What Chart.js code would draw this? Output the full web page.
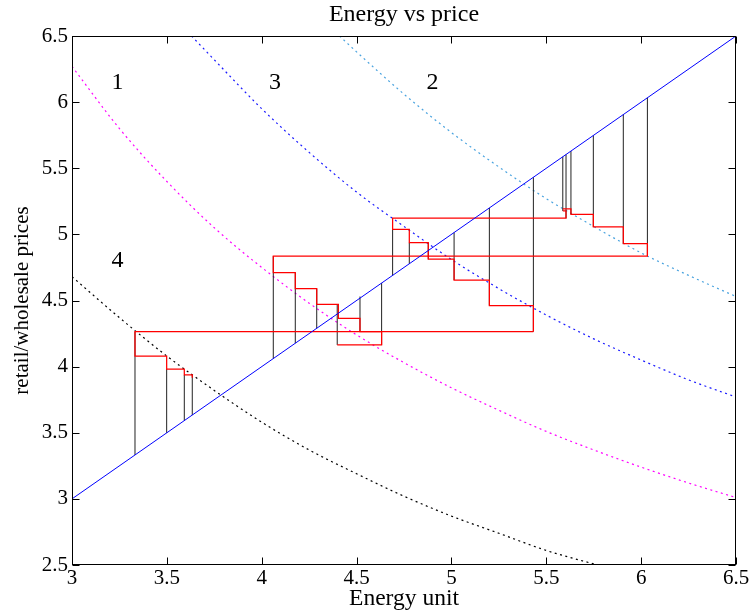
<!DOCTYPE html>
<html>
<head>
<meta charset="utf-8">
<script src="https://cdn.jsdelivr.net/npm/chart.js@4.4.1/dist/chart.umd.min.js"></script>
<style>
  html, body { margin: 0; padding: 0; background: #fff; }
  #wrap { width: 751px; height: 615px; }
</style>
</head>
<body>
<div id="wrap"><canvas id="c" width="751" height="615"></canvas></div>
<script>
// Axis ticks
const xTickVals = [3, 3.5, 4, 4.5, 5, 5.5, 6, 6.5];
const yTickVals = [2.5, 3, 3.5, 4, 4.5, 5, 5.5, 6, 6.5];

// 45-degree line (retail = wholesale)
const diagX = [3, 6.5];
const diagY = [3, 6.5];

// Dotted level curves 1..4
const curve1X = [3, 3.25, 3.5, 3.75, 4, 4.25, 4.5, 4.75, 5, 5.25, 5.5, 5.75, 6, 6.25, 6.5];
const curve1Y = [6.27, 5.80, 5.40, 5.05, 4.75, 4.48, 4.24, 4.03, 3.84, 3.67, 3.51, 3.37, 3.24, 3.12, 3.01];
const curve2X = [4.41, 4.5, 4.75, 5, 5.25, 5.5, 5.75, 6, 6.25, 6.5];
const curve2Y = [6.5, 6.38, 6.06, 5.77, 5.51, 5.27, 5.06, 4.86, 4.69, 4.53];
const curve3X = [3.63, 3.75, 4, 4.25, 4.5, 4.75, 5, 5.25, 5.5, 5.75, 6, 6.25, 6.5];
const curve3Y = [6.5, 6.32, 5.95, 5.62, 5.32, 5.06, 4.81, 4.59, 4.39, 4.21, 4.05, 3.90, 3.77];
const curve4X = [3, 3.25, 3.5, 3.75, 4, 4.25, 4.5, 4.75, 5, 5.25, 5.5, 5.77];
const curve4Y = [4.68, 4.37, 4.08, 3.82, 3.58, 3.37, 3.19, 3.02, 2.87, 2.74, 2.61, 2.50];

// Red price staircases
const stepsAX = [3.634, 3.634, 3.592, 3.592, 3.499, 3.499, 3.332, 3.332, 5.432];
const stepsAY = [3.915, 3.937, 3.937, 3.982, 3.982, 4.080, 4.080, 4.265, 4.265];
const stepsBX = [5.587, 5.630, 5.630, 5.748, 5.748, 5.906, 5.906, 6.033, 6.033, 4.061, 4.061, 4.177, 4.177, 4.290, 4.290, 4.404, 4.404, 4.518, 4.518, 4.632, 4.632, 4.398];
const stepsBY = [5.192, 5.192, 5.152, 5.152, 5.056, 5.056, 4.930, 4.930, 4.836, 4.836, 4.710, 4.710, 4.589, 4.589, 4.471, 4.471, 4.365, 4.365, 4.264, 4.264, 4.164, 4.164];
const stepsCX = [5.587, 5.604, 5.604, 4.690, 4.690, 4.778, 4.778, 4.878, 4.878, 5.014, 5.014, 5.200, 5.200, 5.432, 5.432];
const stepsCY = [5.177, 5.177, 5.122, 5.122, 5.038, 5.038, 4.937, 4.937, 4.812, 4.812, 4.655, 4.655, 4.461, 4.461, 4.265];

// Black vertical links (x, lower end, upper end)
const riseX    = [3.332, 3.499, 3.592, 3.634, 4.061, 4.177, 4.290, 4.398, 4.518, 4.632, 4.690, 4.778, 4.878, 5.014, 5.200, 5.432, 5.587, 5.604, 5.630, 5.748, 5.906, 6.033];
const riseLow  = [3.332, 3.499, 3.592, 3.634, 4.061, 4.177, 4.290, 4.164, 4.264, 4.164, 4.690, 4.778, 4.812, 4.655, 4.461, 4.265, 5.177, 5.122, 5.152, 5.056, 4.930, 4.836];
const riseHigh = [4.265, 3.982, 3.937, 3.937, 4.836, 4.710, 4.589, 4.471, 4.530, 4.632, 5.038, 4.937, 4.937, 5.014, 5.200, 5.432, 5.587, 5.604, 5.630, 5.748, 5.906, 6.033];

// Curve labels
const noteText = ['1', '3', '2', '4'];
const noteX = [3.24, 4.07, 4.90, 3.24];
const noteY = [6.15, 6.15, 6.15, 4.80];

const SERIF = "'Liberation Serif', 'Times New Roman', serif";

function pts(xs, ys) { return xs.map((v, i) => ({ x: v, y: ys[i] })); }

const riseData = [];
riseX.forEach((v, i) => {
  riseData.push({ x: v, y: riseLow[i] }, { x: v, y: riseHigh[i] }, { x: v, y: null });
});

const dotted = (data, color) => ({
  data, borderColor: color, borderWidth: 1.2, borderDash: [2, 3.5],
  showLine: true, pointRadius: 0, cubicInterpolationMode: 'monotone', order: 5
});
const solid = (data, color, order, width) => ({
  data, borderColor: color, borderWidth: width, showLine: true, pointRadius: 0,
  tension: 0, spanGaps: false, order
});

// Box with inward ticks on all four sides, plus curve labels
const framePlugin = {
  id: 'frame',
  afterDatasetsDraw(chart) {
    const { ctx, chartArea: a, scales: { x, y } } = chart;
    ctx.save();
    ctx.strokeStyle = '#000';
    ctx.lineWidth = 1;
    const L = Math.round(a.left) + 0.5, R = Math.round(a.right) - 0.5;
    const T = Math.round(a.top) + 0.5, B = Math.round(a.bottom) - 0.5;
    ctx.strokeRect(L, T, R - L, B - T);
    const tl = 7;
    ctx.beginPath();
    xTickVals.forEach(v => {
      const px = Math.round(x.getPixelForValue(v)) + 0.5;
      ctx.moveTo(px, B); ctx.lineTo(px, B - tl);
      ctx.moveTo(px, T); ctx.lineTo(px, T + tl);
    });
    yTickVals.forEach(v => {
      const py = Math.round(y.getPixelForValue(v)) + 0.5;
      ctx.moveTo(L, py); ctx.lineTo(L + tl, py);
      ctx.moveTo(R, py); ctx.lineTo(R - tl, py);
    });
    ctx.stroke();
    ctx.fillStyle = '#000';
    ctx.font = '24px ' + SERIF;
    ctx.textAlign = 'center';
    ctx.textBaseline = 'middle';
    noteText.forEach((t, i) => {
      ctx.fillText(t, x.getPixelForValue(noteX[i]), y.getPixelForValue(noteY[i]));
    });
    ctx.restore();
  }
};

new Chart(document.getElementById('c'), {
  type: 'scatter',
  data: {
    datasets: [
      dotted(pts(curve1X, curve1Y), '#ff00ff'),
      dotted(pts(curve2X, curve2Y), '#4aa3df'),
      dotted(pts(curve3X, curve3Y), '#1a1aff'),
      dotted(pts(curve4X, curve4Y), '#000000'),
      solid(riseData, '#222222', 3, 1),
      solid(pts(stepsAX, stepsAY), '#ff0000', 2, 1.25),
      solid(pts(stepsBX, stepsBY), '#ff0000', 2, 1.25),
      solid(pts(stepsCX, stepsCY), '#ff0000', 2, 1.25),
      solid(pts(diagX, diagY), '#0000ff', 1, 1)
    ]
  },
  options: {
    responsive: false,
    animation: false,
    devicePixelRatio: 1,
    layout: { padding: { top: 0, right: 15, bottom: 0, left: 0 } },
    plugins: {
      legend: { display: false },
      tooltip: { enabled: false },
      title: {
        display: true,
        text: 'Energy vs price',
        fullSize: false,
        color: '#000',
        font: { family: SERIF, size: 24, weight: 'normal' },
        padding: { top: 0, bottom: 7.2 }
      }
    },
    scales: {
      x: {
        type: 'linear', min: 3, max: 6.5,
        grid: { display: false, drawTicks: false },
        border: { display: false },
        afterBuildTicks: s => { s.ticks = xTickVals.map(v => ({ value: v })); },
        afterFit: s => { s.height = 50; },
        ticks: {
          autoSkip: false, maxRotation: 0, padding: 1, color: '#000',
          font: { family: SERIF, size: 21 },
          callback: v => String(v)
        },
        title: {
          display: true, text: 'Energy unit', color: '#000',
          font: { family: SERIF, size: 23.5 },
          padding: { top: 0, bottom: 2 }
        }
      },
      y: {
        type: 'linear', min: 2.5, max: 6.5,
        grid: { display: false, drawTicks: false },
        border: { display: false },
        afterBuildTicks: s => { s.ticks = yTickVals.map(v => ({ value: v })); },
        afterFit: s => { s.width = 72; },
        ticks: {
          autoSkip: false, padding: 4, color: '#000',
          font: { family: SERIF, size: 21 },
          callback: v => String(v)
        },
        title: {
          display: true, text: 'retail/wholesale prices', color: '#000',
          font: { family: SERIF, size: 21 },
          padding: { top: 9.5, bottom: 0 }
        }
      }
    }
  },
  plugins: [framePlugin]
});
</script>
</body>
</html>
